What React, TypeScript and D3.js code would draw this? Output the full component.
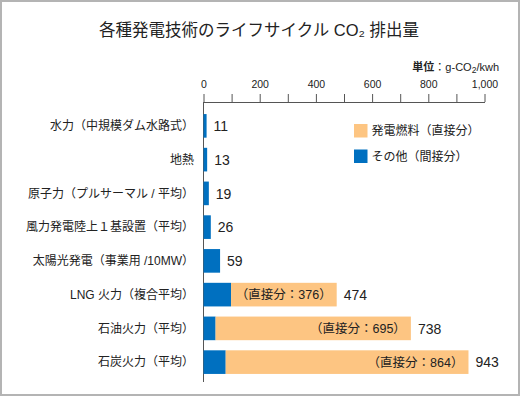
import { useRef, useEffect } from 'react';
import * as d3 from 'd3';

const title = '各種発電技術のライフサイクル CO₂ 排出量';
const categories = [
  '水力（中規模ダム水路式）',
  '地熱',
  '原子力（プルサーマル / 平均）',
  '風力発電陸上１基設置（平均）',
  '太陽光発電（事業用 /10MW）',
  'LNG 火力（複合平均）',
  '石油火力（平均）',
  '石炭火力（平均）',
];
const indirect = [11, 13, 19, 26, 59, 98, 43, 79];
const direct = [0, 0, 0, 0, 0, 376, 695, 864];
const totals = [11, 13, 19, 26, 59, 474, 738, 943];
const tickValues = [0, 100, 200, 300, 400, 500, 600, 700, 800, 900, 1000];
const legendLabels = ['発電燃料（直接分）', 'その他（間接分）'];

const BLUE = '#0070c0';
const ORANGE = '#fdc582';
const FONT = '"Liberation Sans", "Noto Sans CJK JP", sans-serif';

export default function App() {
  const axisRef = useRef<SVGGElement>(null);
  const W = 520, H = 396;
  const x = d3.scaleLinear().domain([0, 1000]).range([203.5, 484.5]);
  const y = d3.scaleBand<string>().domain(categories).range([109, 379]).paddingInner(0.3).paddingOuter(0.15);
  const axisY = 102;

  useEffect(() => {
    if (!axisRef.current) return;
    const g = d3.select(axisRef.current);
    g.selectAll('*').remove();
    g.call(d3.axisTop(x).tickValues(tickValues).tickSize(8).tickSizeOuter(0).tickFormat(d => (+d % 200 === 0 ? d3.format(',')(+d) : '')));
    g.select('.domain').attr('stroke', '#555');
    g.selectAll('.tick line').attr('stroke', '#555');
    g.selectAll('.tick text').attr('fill', '#222').style('font-size', '10.5px').style('font-family', FONT).attr('y', -14);
  }, []);

  const rows = categories.map((c, i) => ({ c, ind: indirect[i], dir: direct[i], tot: totals[i] }));

  return (
    <svg width={W} height={H} style={{ position: 'absolute', left: 0, top: 0, background: '#fff' }} fontFamily={FONT}>
      <rect x={1} y={1} width={W - 2} height={H - 2} fill="#fff" stroke="#b4b4b4" strokeWidth={2} />
      <text x={259} y={36} textAnchor="middle" fontSize={16.5} fill="#222">{title}</text>
      <text x={499} y={71} textAnchor="end" fontSize={11} fill="#222">
        <tspan fontWeight="bold">単位</tspan>：g-CO<tspan fontSize={8.5} dy={2}>2</tspan><tspan dy={-2}>/kwh</tspan>
      </text>
      <g ref={axisRef} transform={`translate(0,${axisY})`} />
      <line x1={x(0)} x2={x(0)} y1={axisY} y2={382} stroke="#555" />

      {rows.map(r => {
        const y0 = y(r.c)!;
        const bw = y.bandwidth();
        const cy = y0 + bw / 2;
        return (
          <g key={r.c}>
            <text x={194} y={cy} dy="0.36em" textAnchor="end" fontSize={12} fill="#222">{r.c}</text>
            <rect x={x(0)} y={y0} width={x(r.ind) - x(0)} height={bw} fill={BLUE} />
            {r.dir > 0 && (
              <>
                <rect x={x(r.ind)} y={y0} width={x(r.ind + r.dir) - x(r.ind)} height={bw} fill={ORANGE} />
                <text x={x(r.tot) - 5} y={cy} dy="0.36em" textAnchor="end" fontSize={12.5} fill="#222">（直接分：{r.dir}）</text>
              </>
            )}
            <text x={x(r.tot) + 7} y={cy} dy="0.38em" fontSize={14} fill="#222">{r.tot}</text>
          </g>
        );
      })}

      {legendLabels.map((l, i) => (
        <g key={l} transform={`translate(354,${124 + i * 25.5})`}>
          <rect width={13.5} height={13.5} fill={i === 0 ? ORANGE : BLUE} />
          <text x={17.5} y={7} dy="0.36em" fontSize={12} fill="#222">{l}</text>
        </g>
      ))}
    </svg>
  );
}
